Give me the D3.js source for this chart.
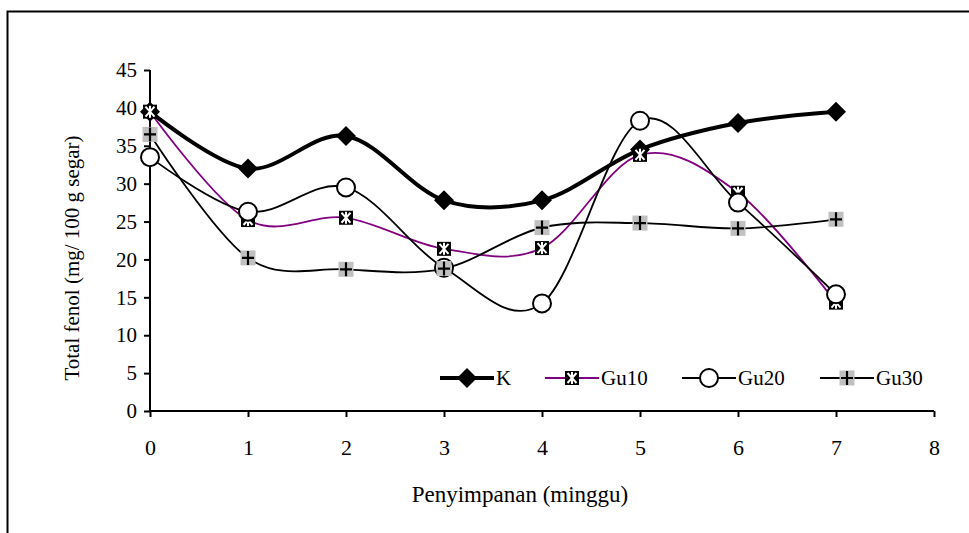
<!DOCTYPE html>
<html>
<head>
<meta charset="utf-8">
<script src="https://cdn.jsdelivr.net/npm/d3@7"></script>
<style>
  body { margin: 0; background: #fff; }
  text { font-family: "Liberation Serif", "Times New Roman", serif; fill: #000; }
</style>
</head>
<body>
<div id="chart"></div>
<script>
// data
const weeks = [0, 1, 2, 3, 4, 5, 6, 7];
const seriesNames = ["K", "Gu10", "Gu20", "Gu30"];
const valuesK = [39.5, 32.0, 36.3, 27.8, 27.8, 34.5, 38.0, 39.5];
const valuesGu10 = [39.5, 25.2, 25.5, 21.4, 21.5, 33.8, 28.8, 14.3];
const valuesGu20 = [33.5, 26.3, 29.5, 18.9, 14.2, 38.3, 27.5, 15.4];
const valuesGu30 = [36.5, 20.2, 18.7, 18.8, 24.2, 24.8, 24.1, 25.3];
const xTicks = [0, 1, 2, 3, 4, 5, 6, 7, 8];
const yTicks = [0, 5, 10, 15, 20, 25, 30, 35, 40, 45];

const W = 969, H = 533;
const FS = "21px";
const svg = d3.select("#chart").append("svg").attr("width", W).attr("height", H);

// outer frame (cut off at right and bottom)
svg.append("rect")
  .attr("x", 7.5).attr("y", 11.5)
  .attr("width", W + 10).attr("height", H + 10)
  .attr("fill", "none").attr("stroke", "#000").attr("stroke-width", 2);

const x = d3.scaleLinear().domain([0, 8]).range([150, 934]);
const y = d3.scaleLinear().domain([0, 45]).range([411, 70]);

const g = svg.append("g");

// axes
const xAxis = g.append("g").attr("transform", `translate(0,${y(0)})`)
  .call(d3.axisBottom(x).tickValues(xTicks).tickSize(6).tickPadding(22).tickFormat(d3.format("d")));
const yAxis = g.append("g").attr("transform", `translate(${x(0)},0)`)
  .call(d3.axisLeft(y).tickValues(yTicks).tickSize(6).tickPadding(7).tickFormat(d3.format("d")));
[xAxis, yAxis].forEach(a => {
  a.attr("font-family", null).attr("font-size", null);
  a.select(".domain").attr("stroke-width", 2).attr("stroke", "#000");
  a.selectAll(".tick line").attr("stroke-width", 2).attr("stroke", "#000");
  a.selectAll(".tick text").style("font-size", FS);
});
xAxis.selectAll(".tick text").style("font-size", "22px");
xAxis.select(".domain").attr("d", `M${x(0)},0H${x(8)}`);
yAxis.select(".domain").attr("d", `M0,${y(45)}V${y(0)}`);

svg.append("text")
  .attr("x", 520).attr("y", 502)
  .attr("text-anchor", "middle")
  .style("font-size", "23px")
  .text("Penyimpanan (minggu)");

svg.append("text")
  .attr("transform", "translate(79,258) rotate(-90)")
  .attr("text-anchor", "middle")
  .style("font-size", FS)
  .text("Total fenol (mg/ 100 g segar)");

const line = d3.line()
  .x((d, i) => x(weeks[i]))
  .y(d => y(d))
  .curve(d3.curveCatmullRom.alpha(0));

const series = [
  { name: "K", values: valuesK, color: "#000", width: 4, marker: "diamond" },
  { name: "Gu10", values: valuesGu10, color: "#800080", width: 1.8, marker: "xsquare" },
  { name: "Gu20", values: valuesGu20, color: "#000", width: 1.8, marker: "circle" },
  { name: "Gu30", values: valuesGu30, color: "#000", width: 1.8, marker: "plus" }
];

function drawMarker(sel, type) {
  if (type === "diamond") {
    sel.append("path").attr("d", "M0,-10L10,0L0,10L-10,0Z").attr("fill", "#000");
  } else if (type === "xsquare") {
    sel.append("rect").attr("x", -7).attr("y", -7).attr("width", 14).attr("height", 14).attr("fill", "#000");
    sel.append("path").attr("d", "M-4.5,-5L4.5,5M4.5,-5L-4.5,5M0,-6V6")
      .attr("stroke", "#fff").attr("stroke-width", 2).attr("fill", "none");
  } else if (type === "circle") {
    sel.append("circle").attr("r", 9).attr("fill", "#fff").attr("stroke", "#000").attr("stroke-width", 2);
  } else if (type === "plus") {
    sel.append("rect").attr("x", -7.5).attr("y", -7.5).attr("width", 15).attr("height", 15).attr("fill", "#c0c0c0");
    sel.append("path").attr("d", "M-6,0H6M0,-7V7")
      .attr("stroke", "#000").attr("stroke-width", 2.2).attr("fill", "none");
  }
}

// lines first, then markers (in series order)
series.forEach(s => {
  g.append("path").datum(s.values)
    .attr("d", line)
    .attr("fill", "none")
    .attr("stroke", s.color)
    .attr("stroke-width", s.width);
});
series.forEach(s => {
  g.selectAll(null).data(s.values).enter().append("g")
    .attr("transform", (d, i) => `translate(${x(weeks[i])},${y(d)})`)
    .each(function () { drawMarker(d3.select(this), s.marker); });
});

// legend
const legendX = [440, 545, 682, 820];
const legend = svg.append("g").attr("transform", "translate(0,378)");
series.forEach((s, i) => {
  const lg = legend.append("g").attr("transform", `translate(${legendX[i]},0)`);
  lg.append("line").attr("x1", 0).attr("x2", 54).attr("y1", 0).attr("y2", 0)
    .attr("stroke", s.color).attr("stroke-width", s.width);
  const m = lg.append("g").attr("transform", "translate(27,0)");
  drawMarker(m, s.marker);
  lg.append("text").attr("x", 56).attr("y", 7)
    .style("font-size", FS).text(seriesNames[i]);
});
</script>
</body>
</html>
